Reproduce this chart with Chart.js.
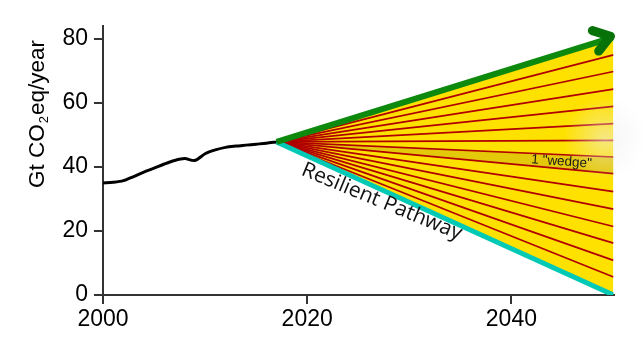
<!DOCTYPE html>
<html>
<head>
<meta charset="utf-8">
<script src="https://cdn.jsdelivr.net/npm/chart.js@4"></script>
<style>
  html, body { margin: 0; background: #fff; }
  canvas { display: block; }
</style>
</head>
<body>
<canvas id="wedges" width="643" height="352"></canvas>
<script>
// historical emissions, Gt CO2eq/year
const historyYears = [2000, 2001, 2002, 2003, 2004, 2005, 2006, 2007, 2008, 2009,
                      2010, 2011, 2012, 2013, 2014, 2015, 2016, 2017];
const historyEmissions = [35.0, 35.2, 35.7, 37.0, 38.4, 39.6, 40.9, 42.0, 42.6, 42.0,
                          44.1, 45.3, 46.1, 46.5, 46.8, 47.1, 47.4, 47.8];

// wedge fan from 2017 to 2050
const wedgeYears = [2017, 2050];
const wedgeStart = 47.8;
const businessAsUsual2050 = 80.5;
const resilient2050 = 0;
const wedgeLines2050 = [75.0, 69.8, 64.3, 58.9, 53.5, 48.3, 43.1, 37.9, 32.3, 26.8, 21.4, 16.2, 10.8, 5.6];
const oneWedge2050 = [43.1, 37.9];

const xTicks = [2000, 2020, 2040];
const yTicks = [0, 20, 40, 60, 80];

const seg = end => wedgeYears.map((x, i) => ({ x: x, y: i === 0 ? wedgeStart : end }));

const datasets = [
  { label: 'bau', data: seg(businessAsUsual2050), borderColor: '#0d8a0d', borderWidth: 6, borderCapStyle: 'butt', order: 0 },
  { label: 'resilient', data: seg(resilient2050), borderColor: '#00c9b6', borderWidth: 5, order: 1 },
  { label: 'history', data: historyYears.map((x, i) => ({ x: x, y: historyEmissions[i] })),
    borderColor: '#000', borderWidth: 3, tension: 0.3, borderCapStyle: 'round', order: 2 }
];
wedgeLines2050.forEach(v => {
  datasets.push({ label: 'w' + v, data: seg(v), borderColor: '#b00000', borderWidth: 1.7, order: 3 });
});
const bandIdx = datasets.length;
datasets.push({ label: 'bandTop', data: seg(oneWedge2050[0]), borderColor: 'transparent',
                backgroundColor: '#e4c80a', fill: bandIdx + 1, order: 4 });
datasets.push({ label: 'bandBottom', data: seg(oneWedge2050[1]), borderColor: 'transparent', order: 4 });
const yellowIdx = datasets.length;
datasets.push({ label: 'fanTop', data: seg(businessAsUsual2050), borderColor: 'transparent',
                backgroundColor: '#ffe100', fill: yellowIdx + 1, order: 5 });
datasets.push({ label: 'fanBottom', data: seg(resilient2050), borderColor: 'transparent', order: 5 });

const annotations = {
  id: 'annotations',
  afterDatasetsDraw(chart) {
    const ctx = chart.ctx;
    const area = chart.chartArea;

    // faint haze near the right edge
    ctx.save();
    const hx = area.right - 8, hy = chart.scales.y.getPixelForValue(49);
    const grad = ctx.createRadialGradient(hx, hy, 0, hx, hy, 42);
    grad.addColorStop(0, 'rgba(238,238,238,0.55)');
    grad.addColorStop(1, 'rgba(238,238,238,0)');
    ctx.fillStyle = grad;
    ctx.fillRect(hx - 45, hy - 45, 90, 90);
    ctx.restore();

    // arrow head on business-as-usual line
    const g = chart.getDatasetMeta(0).data;
    const ang = Math.atan2(g[1].y - g[0].y, g[1].x - g[0].x);
    const back = ang + Math.PI;
    const tipX = g[1].x - 3, tipY = g[1].y - 1;
    ctx.save();
    ctx.strokeStyle = '#077207';
    ctx.lineWidth = 9;
    ctx.lineCap = 'round';
    ctx.lineJoin = 'round';
    ctx.beginPath();
    ctx.moveTo(tipX + 19 * Math.cos(back - 0.6), tipY + 19 * Math.sin(back - 0.6));
    ctx.lineTo(tipX, tipY);
    ctx.lineTo(tipX + 19 * Math.cos(back + 0.6), tipY + 19 * Math.sin(back + 0.6));
    ctx.stroke();
    ctx.restore();

    // "Resilient Pathway" along the cyan line
    const c = chart.getDatasetMeta(1).data;
    const ca = Math.atan2(c[1].y - c[0].y, c[1].x - c[0].x);
    const along = 35, perp = 20;
    const sx = c[0].x + along * Math.cos(ca) - perp * Math.sin(ca);
    const sy = c[0].y + along * Math.sin(ca) + perp * Math.cos(ca);
    ctx.save();
    ctx.translate(sx, sy);
    ctx.rotate(ca - 0.035);
    ctx.font = '21px "Open Sans"';
    ctx.fillStyle = '#111';
    ctx.textAlign = 'left';
    ctx.textBaseline = 'alphabetic';
    ctx.fillText('Resilient Pathway', 0, 0);
    ctx.restore();

    // one wedge label
    const bt = chart.getDatasetMeta(bandIdx).data;
    const bb = chart.getDatasetMeta(bandIdx + 1).data;
    const t = 0.846;
    const mx = (bt[0].x + (bt[1].x - bt[0].x) * t + bb[0].x + (bb[1].x - bb[0].x) * t) / 2;
    const my = (bt[0].y + (bt[1].y - bt[0].y) * t + bb[0].y + (bb[1].y - bb[0].y) * t) / 2;
    const ba = (Math.atan2(bt[1].y - bt[0].y, bt[1].x - bt[0].x) + Math.atan2(bb[1].y - bb[0].y, bb[1].x - bb[0].x)) / 2;
    ctx.save();
    ctx.translate(mx, my);
    ctx.rotate(ba);
    ctx.font = '13.5px "Liberation Sans"';
    ctx.fillStyle = '#1a1a1a';
    ctx.textAlign = 'center';
    ctx.textBaseline = 'middle';
    ctx.fillText('1 "wedge"', 0, 0);
    ctx.restore();

    // y axis title with subscript
    ctx.save();
    ctx.translate(43.5, area.bottom - 107);
    ctx.rotate(-Math.PI / 2);
    ctx.fillStyle = '#000';
    ctx.textBaseline = 'alphabetic';
    ctx.font = '22.5px "Liberation Sans"';
    let x = 0;
    ctx.fillText('Gt CO', x, 0);
    x += ctx.measureText('Gt CO').width;
    ctx.font = '13px "Liberation Sans"';
    ctx.fillText('2', x + 1, 4);
    x += ctx.measureText('2').width + 2;
    ctx.font = '22.5px "Liberation Sans"';
    ctx.fillText('eq/year', x, 0);
    ctx.restore();
  }
};

const axisFont = { family: '"Liberation Sans", Arial, sans-serif', size: 23 };

new Chart(document.getElementById('wedges'), {
  type: 'line',
  data: { datasets: datasets },
  options: {
    responsive: false,
    animation: false,
    layout: { padding: { top: 26, right: 29.5, left: 0, bottom: 0 } },
    elements: { point: { radius: 0 }, line: { tension: 0, fill: false } },
    plugins: { legend: { display: false }, tooltip: { enabled: false } },
    scales: {
      x: {
        type: 'linear',
        min: 2000,
        max: 2050,
        afterBuildTicks: s => { s.ticks = xTicks.map(v => ({ value: v })); },
        afterFit: s => { s.height = 57; },
        grid: { drawOnChartArea: false, drawTicks: true, tickLength: 9, color: '#333', lineWidth: 2 },
        border: { display: true, color: '#333', width: 2 },
        ticks: { font: axisFont, color: '#000', padding: 2, maxRotation: 0, callback: v => String(v) }
      },
      y: {
        min: 0,
        max: 84,
        afterBuildTicks: s => { s.ticks = yTicks.map(v => ({ value: v })); },
        afterFit: s => { s.width = 103; },
        grid: { drawOnChartArea: false, drawTicks: true, tickLength: 9, color: '#333', lineWidth: 2 },
        border: { display: true, color: '#333', width: 2 },
        ticks: { font: axisFont, color: '#000', padding: 6 }
      }
    }
  },
  plugins: [annotations]
});
</script>
</body>
</html>
